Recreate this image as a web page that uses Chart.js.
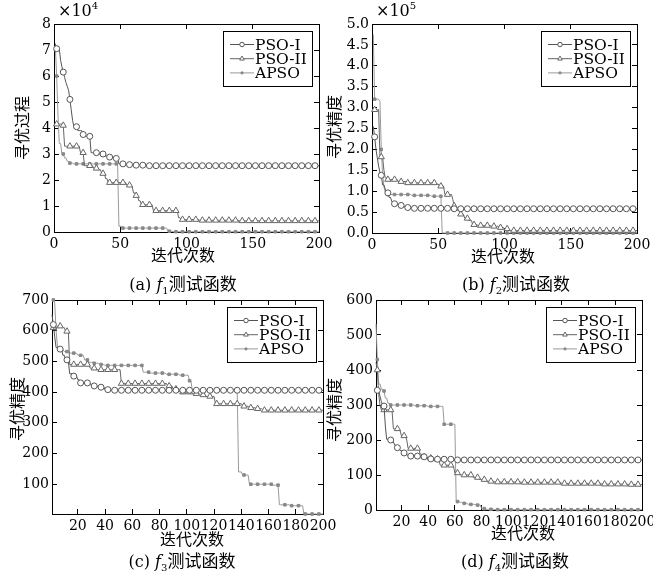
<!DOCTYPE html>
<html>
<head>
<meta charset="utf-8">
<script src="https://cdn.jsdelivr.net/npm/chart.js@4.4.0/dist/chart.umd.min.js"></script>
<style>
  body { margin: 0; background: #fff; }
  #fig { position: relative; width: 653px; height: 574px; overflow: hidden; font-family: "DejaVu Serif", serif; color: #000; }
  #fig canvas { position: absolute; }
  .t { position: absolute; white-space: nowrap; transform: translate(-50%, -50%); }
  .cjk { font-family: "Noto Sans CJK SC", sans-serif; font-size: 16px; }
  .yt { transform: translate(-50%, -50%) rotate(-90deg); }
  .cap { font-size: 16px; }
  .cap span { font-family: "Noto Sans CJK SC", sans-serif; font-size: 17px; }
  .mult { position: absolute; font-size: 16px; }
  .mult sup { font-size: 10px; vertical-align: 7px; }
</style>
</head>
<body>
<div id="fig"></div>
<script>
// 迭代次数 1..200，每条曲线用 [起始迭代, 数值] 的阶梯段表示
const SERIES = ['PSO-I', 'PSO-II', 'APSO'];

// (a) f1, 单位 ×10^4
const a_pso1 = [[1,7.25],[2,7.05],[5,6.6],[6,6.35],[7,6.15],[8,5.95],[9,5.75],[10,5.6],[11,5.45],[12,5.1],[13,4.7],[14,4.3],[15,4.05],[18,3.9],[22,3.75],[24,3.68],[28,3.05],[33,3.0],[38,2.92],[42,2.88],[45,2.83],[49,2.62],[53,2.59],[58,2.57],[70,2.55]];
const a_pso2 = [[1,4.2],[2,4.15],[7,4.1],[8,3.3],[20,3.05],[23,2.55],[30,2.45],[33,2.4],[36,2.25],[39,2.05],[41,1.9],[55,1.8],[58,1.75],[60,1.5],[62,1.4],[64,1.2],[66,1.05],[75,0.82],[94,0.55],[96,0.48],[110,0.45],[140,0.43]];
const a_apso = [[1,7.15],[2,6.0],[3,4.5],[4,3.4],[6,3.0],[8,2.85],[10,2.72],[12,2.65],[15,2.62],[49,0.22],[52,0.15],[86,0.03],[90,0.01]];

// (b) f2, 单位 ×10^5
const b_pso1 = [[1,2.55],[2,2.3],[3,2.0],[4,1.8],[5,1.6],[6,1.45],[7,1.38],[8,1.15],[10,1.05],[11,0.96],[13,0.85],[15,0.75],[17,0.7],[20,0.66],[24,0.63],[27,0.61],[32,0.59],[60,0.58]];
const b_pso2 = [[1,2.95],[6,1.82],[9,1.5],[10,1.32],[12,1.28],[20,1.23],[27,1.2],[48,1.17],[51,1.12],[55,0.92],[61,0.8],[62,0.65],[64,0.55],[67,0.45],[70,0.35],[73,0.3],[76,0.2],[80,0.18],[90,0.16],[96,0.13],[100,0.1],[103,0.06]];
const b_apso = [[1,4.75],[2,3.2],[6,3.15],[7,2.0],[8,1.4],[9,1.1],[10,0.98],[12,0.92],[30,0.9],[45,0.88],[53,0]];

// (c) f3
const c_pso1 = [[1,652],[2,620],[3,580],[4,545],[7,540],[9,520],[11,505],[13,500],[14,460],[17,452],[20,440],[22,430],[30,420],[35,416],[40,408],[45,406]];
const c_pso2 = [[1,610],[3,605],[5,615],[9,610],[11,598],[14,490],[29,478],[33,473],[52,428],[86,420],[90,410],[95,400],[104,395],[110,391],[114,386],[121,362],[141,354],[146,349],[151,346],[156,341]];
const c_apso = [[1,700],[3,690],[4,600],[5,550],[6,538],[10,532],[14,527],[20,520],[25,505],[28,497],[32,494],[36,490],[40,487],[68,465],[73,462],[85,458],[95,455],[102,437],[104,405],[138,140],[141,130],[146,100],[163,97],[168,33],[176,30],[186,3]];

// (d) f4
const d_pso1 = [[1,342],[3,340],[4,325],[5,310],[6,300],[7,297],[8,240],[9,202],[11,200],[13,195],[15,185],[17,178],[19,170],[21,163],[24,157],[26,154],[34,152],[38,148],[41,146],[46,145],[60,143]];
const d_pso2 = [[1,422],[2,400],[3,330],[4,300],[5,286],[13,284],[14,232],[18,228],[20,212],[24,200],[25,176],[34,160],[36,152],[40,148],[44,145],[49,128],[58,124],[60,106],[64,100],[74,93],[78,87],[84,82],[90,80],[110,79],[140,76],[170,74],[190,73]];
const d_apso = [[1,532],[2,430],[3,360],[5,345],[7,340],[8,320],[10,305],[12,300],[30,298],[40,296],[52,245],[61,24],[64,22],[66,19],[70,16],[76,14],[80,4],[84,2],[90,1]];

// 刻度
const a_yticks = [0, 1, 2, 3, 4, 5, 6, 7, 8];
const b_yticks = [0, 0.5, 1.0, 1.5, 2.0, 2.5, 3.0, 3.5, 4.0, 4.5, 5.0];
const c_yticks = [100, 200, 300, 400, 500, 600, 700];
const d_yticks = [0, 100, 200, 300, 400, 500, 600];
const ab_xticks = [0, 50, 100, 150, 200];
const cd_xticks = [20, 40, 60, 80, 100, 120, 140, 160, 180, 200];

function expand(runs) {
  const out = [];
  let k = 0;
  for (let it = 1; it <= 200; it++) {
    while (k + 1 < runs.length && runs[k + 1][0] <= it) k++;
    out.push({ x: it, y: runs[k][1] });
  }
  return out;
}

const STYLE = [
  { borderColor: '#555', pointStyle: 'circle',   r: 3,   pointBackgroundColor: '#fff', pointBorderColor: '#555' },
  { borderColor: '#666', pointStyle: 'triangle', r: 3.6, pointBackgroundColor: '#fff', pointBorderColor: '#666' },
  { borderColor: '#999', pointStyle: 'rect',     r: 1.8, pointBackgroundColor: '#888', pointBorderColor: '#888' }
];

const TICKFONT = { family: 'DejaVu Serif', size: 14 };
const YW = 44, PT = 10, PR = 16, XH = 22;

const legendBox = {
  id: 'legendBox',
  afterDatasetsDraw(chart) {
    const { ctx, chartArea: a } = chart;
    const w = 89, h = 55, x = Math.round(a.right - 7 - w), y = Math.round(a.top + 7);
    ctx.save();
    ctx.fillStyle = '#fff';
    ctx.fillRect(x, y, w, h);
    ctx.strokeStyle = '#000';
    ctx.lineWidth = 1;
    ctx.strokeRect(x + 0.5, y + 0.5, w, h);
    chart.data.datasets.forEach((ds, i) => {
      const yy = y + 13.5 + i * 14.2;
      ctx.strokeStyle = ds.borderColor;
      ctx.beginPath(); ctx.moveTo(x + 7, yy); ctx.lineTo(x + 31, yy); ctx.stroke();
      ctx.fillStyle = ds.pointBackgroundColor;
      ctx.strokeStyle = ds.pointBorderColor;
      Chart.helpers.drawPoint(ctx, { pointStyle: ds.pointStyle, radius: STYLE[i].r * 0.75, borderWidth: 1, rotation: 0 }, x + 19, yy);
      ctx.fillStyle = '#000';
      ctx.font = '15.5px "DejaVu Serif"';
      ctx.textBaseline = 'middle';
      ctx.fillText(ds.label, x + 32, yy + 1);
    });
    ctx.restore();
  }
};

function axis(pos, min, max, ticks, show, fmt) {
  const horiz = pos === 'bottom' || pos === 'top';
  return {
    type: 'linear', position: pos, min, max,
    afterBuildTicks: s => { s.ticks = ticks.map(v => ({ value: v })); },
    afterFit: s => {
      if (horiz) s.height = show ? XH : 0; else s.width = show ? YW : 0;
      s.paddingLeft = s.paddingRight = s.paddingTop = s.paddingBottom = 0;
    },
    grid: { drawOnChartArea: false, drawTicks: true, tickLength: -5, color: '#000', lineWidth: 1 },
    border: { color: '#000', width: 1 },
    ticks: {
      display: show, color: '#000', font: TICKFONT, autoSkip: false, maxRotation: 0,
      padding: horiz ? 9 : 8,
      callback: v => fmt ? fmt(v) : v
    }
  };
}

function panel(p) {
  const cv = document.createElement('canvas');
  const w = YW + (p.R - p.L) + PR, h = PT + (p.B - p.T) + XH;
  cv.width = w; cv.height = h;
  cv.style.left = (p.L - YW) + 'px';
  cv.style.top = (p.T - PT) + 'px';
  document.getElementById('fig').appendChild(cv);
  new Chart(cv, {
    type: 'line',
    data: {
      datasets: p.series.map((runs, i) => ({
        label: SERIES[i],
        data: expand(runs),
        borderColor: STYLE[i].borderColor,
        borderWidth: 1,
        tension: 0,
        pointStyle: STYLE[i].pointStyle,
        pointBackgroundColor: STYLE[i].pointBackgroundColor,
        pointBorderColor: STYLE[i].pointBorderColor,
        pointBorderWidth: 1,
        pointRadius: c => (c.raw && c.raw.x % 5 === 2) ? STYLE[i].r : 0,
        clip: false
      }))
    },
    options: {
      responsive: false,
      animation: false,
      events: [],
      layout: { padding: { left: 0, right: PR, top: PT, bottom: 0 } },
      plugins: { legend: { display: false }, tooltip: { enabled: false } },
      scales: {
        x: axis('bottom', p.xmin, 200, p.xticks, true),
        x2: axis('top', p.xmin, 200, p.xticks, false),
        y: axis('left', p.ymin, p.ymax, p.yticks, true, p.fmt),
        y2: axis('right', p.ymin, p.ymax, p.yticks, false)
      }
    },
    plugins: [legendBox]
  });
}

panel({ L: 54, R: 319, T: 24, B: 232, xmin: 0, ymin: 0, ymax: 8, xticks: ab_xticks, yticks: a_yticks, series: [a_pso1, a_pso2, a_apso] });
panel({ L: 372, R: 637, T: 24, B: 233, xmin: 0, ymin: 0, ymax: 5, xticks: ab_xticks, yticks: b_yticks, series: [b_pso1, b_pso2, b_apso], fmt: v => v.toFixed(1) });
panel({ L: 52, R: 323, T: 300, B: 514, xmin: 1, ymin: 3, ymax: 700, xticks: cd_xticks, yticks: c_yticks, series: [c_pso1, c_pso2, c_apso] });
panel({ L: 376, R: 642, T: 300, B: 510, xmin: 1, ymin: 0, ymax: 600, xticks: cd_xticks, yticks: d_yticks, series: [d_pso1, d_pso2, d_apso] });

// 文字标注
const LABELS = [
  ['t yt cjk', 21, 128, '寻优过程'],
  ['t cjk', 183, 254, '迭代次数'],
  ['t cap', 183, 283, '(a)&nbsp;<i>f</i><sub style="font-size:10px">1</sub><span>测试函数</span>'],
  ['t yt cjk', 333, 127, '寻优精度'],
  ['t cjk', 503, 255, '迭代次数'],
  ['t cap', 516, 283, '(b)&nbsp;<i>f</i><sub style="font-size:10px">2</sub><span>测试函数</span>'],
  ['t yt cjk', 16, 409, '寻优精度'],
  ['t cjk', 192, 538, '迭代次数'],
  ['t cap', 182, 560, '(c)&nbsp;<i>f</i><sub style="font-size:10px">3</sub><span>测试函数</span>'],
  ['t yt cjk', 333, 410, '寻优精度'],
  ['t cjk', 523, 532, '迭代次数'],
  ['t cap', 515, 560, '(d)&nbsp;<i>f</i><sub style="font-size:10px">4</sub><span>测试函数</span>']
];
const fig = document.getElementById('fig');
LABELS.forEach(([cls, x, y, html]) => {
  const d = document.createElement('div');
  d.className = cls;
  d.style.left = x + 'px';
  d.style.top = y + 'px';
  d.innerHTML = html;
  fig.appendChild(d);
});
[[58, 0, '4'], [376, 0, '5']].forEach(([x, y, e]) => {
  const d = document.createElement('div');
  d.className = 'mult';
  d.style.left = x + 'px';
  d.style.top = y + 'px';
  d.innerHTML = '×10<sup>' + e + '</sup>';
  fig.appendChild(d);
});
</script>
</body>
</html>
